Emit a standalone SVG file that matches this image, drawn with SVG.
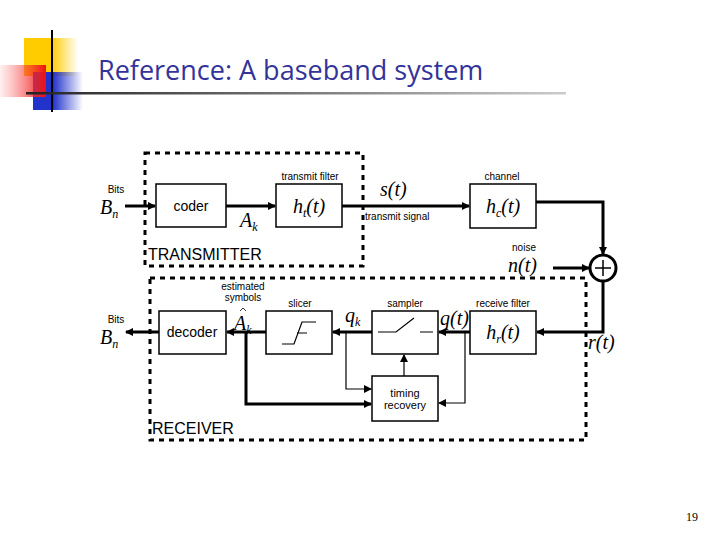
<svg xmlns="http://www.w3.org/2000/svg" width="720" height="540" viewBox="0 0 720 540">
<defs>
<linearGradient id="gy" x1="0" x2="1"><stop offset="0.5" stop-color="#ffcc00"/><stop offset="1" stop-color="#ffcc00" stop-opacity="0"/></linearGradient>
<linearGradient id="gr" x1="1" x2="0"><stop offset="0" stop-color="#ee1111"/><stop offset="1" stop-color="#ff6666" stop-opacity="0.1"/></linearGradient>
<linearGradient id="gb" x1="0" x2="1"><stop offset="0.4" stop-color="#2233cc"/><stop offset="1" stop-color="#2233cc" stop-opacity="0"/></linearGradient>
<linearGradient id="gl" x1="0" x2="1"><stop offset="0" stop-color="#222"/><stop offset="1" stop-color="#ccc"/></linearGradient>
<marker id="a" markerWidth="8" markerHeight="8" refX="7" refY="4" orient="auto" markerUnits="userSpaceOnUse"><path d="M0,0 L8,4 L0,8 z" fill="#000"/></marker>
</defs>
<style>
.b{fill:#fff;stroke:#000;stroke-width:1.5}
.t{font-family:"Liberation Sans",Arial,sans-serif;fill:#000}
.m{font-family:"Liberation Serif","Times New Roman",serif;font-style:italic;fill:#000}
.d{fill:none;stroke:#000;stroke-width:3;stroke-dasharray:5,5}
.w{fill:none;stroke:#000;stroke-width:3}
.n{fill:none;stroke:#000;stroke-width:1.2}
</style>
<rect width="720" height="540" fill="#fff"/>
<g id="logo">
<rect x="24" y="38" width="54" height="38" fill="url(#gy)"/>
<rect x="33" y="72" width="50" height="38" fill="url(#gb)"/>
<rect x="0" y="65" width="46" height="32" fill="url(#gr)"/>
<line x1="52" y1="30" x2="52" y2="112" stroke="#000" stroke-width="2"/>
<rect x="26" y="92" width="540" height="2.5" fill="url(#gl)"/>
</g>
<text x="98" y="80" font-family="'Open Sans','Liberation Sans',sans-serif" font-size="27" fill="#333399">Reference: A baseband system</text>
<text x="686" y="521" font-family="Liberation Serif,serif" font-size="12">19</text>
<rect class="d" x="145" y="153" width="218" height="113"/>
<rect class="d" x="150" y="278" width="436" height="162"/>
<g id="connectors">
<line class="w" x1="125" y1="206" x2="155" y2="206" marker-end="url(#a)"/>
<line class="w" x1="226" y1="206" x2="275" y2="206" marker-end="url(#a)"/>
<line class="w" x1="342" y1="206" x2="469" y2="206" marker-end="url(#a)"/>
<polyline class="w" points="536,202 603,202 603,254" marker-end="url(#a)"/>
<line class="w" x1="553" y1="268" x2="589" y2="268" marker-end="url(#a)"/>
<polyline class="w" points="603,282 603,332 537,332" marker-end="url(#a)"/>
<line class="w" x1="470" y1="332" x2="439" y2="332" marker-end="url(#a)"/>
<line class="w" x1="372" y1="332" x2="333" y2="332" marker-end="url(#a)"/>
<line class="w" x1="266" y1="332" x2="227" y2="332" marker-end="url(#a)"/>
<line class="w" x1="159" y1="332" x2="126" y2="332" marker-end="url(#a)"/>
<polyline class="w" points="246,332 246,404 371,404" marker-end="url(#a)"/>
<polyline class="n" points="346,332 346,389 371,389" marker-end="url(#a)"/>
<polyline class="n" points="465,332 465,403 439,403" marker-end="url(#a)"/>
<line class="n" x1="404" y1="376" x2="404" y2="355" marker-end="url(#a)"/>
</g>
<g id="coder"><rect class="b" x="156" y="184" width="70" height="43"/><text class="t" x="191" y="211" font-size="14" text-anchor="middle">coder</text></g>
<g id="ht"><rect class="b" x="276" y="184" width="66" height="43"/><text class="m" x="309" y="213" font-size="20" text-anchor="middle">h<tspan font-size="12" dy="4">t</tspan><tspan dy="-4">(t)</tspan></text><text class="t" x="310" y="180" font-size="10" text-anchor="middle">transmit filter</text></g>
<g id="hc"><rect class="b" x="470" y="184" width="66" height="44"/><text class="m" x="503" y="213" font-size="20" text-anchor="middle">h<tspan font-size="12" dy="4">c</tspan><tspan dy="-4">(t)</tspan></text><text class="t" x="502" y="180" font-size="10" text-anchor="middle">channel</text></g>
<g id="sum"><circle cx="603" cy="268" r="13" fill="#fff" stroke="#000" stroke-width="3"/><path d="M595,268 H611 M603,260 V276" stroke="#000" stroke-width="1.5"/></g>
<g id="hr"><rect class="b" x="470" y="311" width="66" height="43"/><text class="m" x="503" y="339" font-size="20" text-anchor="middle">h<tspan font-size="12" dy="4">r</tspan><tspan dy="-4">(t)</tspan></text><text class="t" x="503" y="307" font-size="10" text-anchor="middle">receive filter</text></g>
<g id="sampler"><rect class="b" x="372" y="311" width="66" height="43"/><path d="M378,332 H396 L414,318 M420,332 H433" class="n" stroke-width="1.5"/><text class="t" x="405" y="307" font-size="10" text-anchor="middle">sampler</text></g>
<g id="slicer"><rect class="b" x="266" y="311" width="66" height="43"/><path d="M282,344 H294 L302,322 H316" class="n" stroke-width="1.5"/><line x1="297" y1="333" x2="307" y2="333" stroke="#000"/><text class="t" x="300" y="307" font-size="10" text-anchor="middle">slicer</text></g>
<g id="decoder"><rect class="b" x="159" y="311" width="67" height="43"/><text class="t" x="192" y="337" font-size="14" text-anchor="middle">decoder</text></g>
<g id="timing"><rect class="b" x="372" y="376" width="66" height="45"/><text class="t" x="405" y="397" font-size="11" text-anchor="middle">timing</text><text class="t" x="405" y="409" font-size="11" text-anchor="middle">recovery</text></g>
<g id="labels">
<text class="t" x="116" y="193" font-size="10" text-anchor="middle">Bits</text>
<text class="m" x="100" y="214" font-size="20">B<tspan font-size="12" dy="4">n</tspan></text>
<text class="m" x="240" y="227" font-size="20">A<tspan font-size="12" dy="4">k</tspan></text>
<text class="m" x="380" y="196" font-size="20">s(t)</text>
<text class="t" x="365" y="220" font-size="10">transmit signal</text>
<text class="t" x="524" y="251" font-size="10" text-anchor="middle">noise</text>
<text class="m" x="508" y="272" font-size="20">n(t)</text>
<text class="m" x="588" y="349" font-size="20">r(t)</text>
<text class="m" x="440" y="325" font-size="20">q(t)</text>
<text class="m" x="345" y="322" font-size="20">q<tspan font-size="12" dy="4">k</tspan></text>
<text class="m" x="234" y="330" font-size="20">A<tspan font-size="12" dy="4">k</tspan></text>
<path d="M240,311 L243,308 L246,311" fill="none" stroke="#000" stroke-width="0.8"/>
<text class="t" x="243" y="290" font-size="10" text-anchor="middle">estimated</text>
<text class="t" x="243" y="301" font-size="10" text-anchor="middle">symbols</text>
<text class="t" x="116" y="323" font-size="10" text-anchor="middle">Bits</text>
<text class="m" x="100" y="344" font-size="20">B<tspan font-size="12" dy="4">n</tspan></text>
<text class="t" x="148" y="260" font-size="16">TRANSMITTER</text>
<text class="t" x="152" y="434" font-size="16">RECEIVER</text>
</g>
</svg>
